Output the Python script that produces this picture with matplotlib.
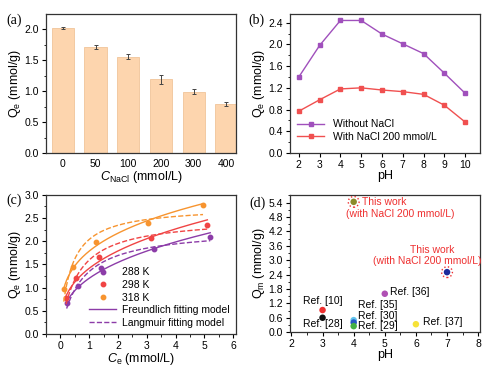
import numpy as np
import matplotlib
matplotlib.use('Agg')
import matplotlib.pyplot as plt
from matplotlib.ticker import FormatStrFormatter

plt.rcParams['font.family'] = ['Liberation Sans', 'DejaVu Sans']
plt.rcParams['font.size'] = 7.5
plt.rcParams['axes.labelsize'] = 9
plt.rcParams['mathtext.fontset'] = 'custom'
plt.rcParams['mathtext.it'] = 'Liberation Sans:italic'
plt.rcParams['mathtext.rm'] = 'Liberation Sans'

# (a) NaCl concentration
nacl_labels = ['0', '50', '100', '200', '300', '400']
qe_nacl = [2.02, 1.72, 1.56, 1.19, 0.99, 0.79]
qe_nacl_err = [0.02, 0.03, 0.04, 0.08, 0.04, 0.03]

# (b) pH effect
ph = [2, 3, 4, 5, 6, 7, 8, 9, 10]
qe_without = [1.40, 1.98, 2.44, 2.44, 2.19, 2.01, 1.83, 1.47, 1.10]
qe_with = [0.77, 0.98, 1.18, 1.20, 1.16, 1.13, 1.08, 0.88, 0.57]

# (c) isotherms
temps = ['288 K', '298 K', '318 K']
ce_288 = [0.22, 0.60, 1.40, 3.25, 5.20]
qe_288 = [0.66, 1.04, 1.43, 1.83, 2.10]
ce_298 = [0.20, 0.55, 1.35, 3.15, 5.10]
qe_298 = [0.78, 1.20, 1.66, 2.08, 2.36]
ce_318 = [0.12, 0.45, 1.25, 3.05, 4.95]
qe_318 = [0.96, 1.44, 1.98, 2.40, 2.78]

# (d) comparison
cmp_ph = [4, 7, 5, 3, 3, 4, 4, 4, 6]
cmp_qm = [5.43, 2.50, 1.60, 0.92, 0.60, 0.50, 0.40, 0.25, 0.33]
cmp_col = ['#8c8c2c', '#1c2c9c', '#b050b4', '#ee3030', '#111111',
           '#60c4ec', '#2858c4', '#44b044', '#f6e238']

col_bar = '#fdd5ae'
cols_T = ['#8c3ca8', '#f04444', '#f7942f']

fig = plt.figure(figsize=(4.88, 3.67), dpi=100)

def style(ax):
    for s in ax.spines.values():
        s.set_linewidth(0.9)
        s.set_color('#333333')
    ax.tick_params(direction='out', length=3, width=0.8, pad=2)
    ax.tick_params(which='minor', direction='out', length=1.8, width=0.6)

# (a)
ax1 = fig.add_axes([0.094, 0.583, 0.390, 0.379])
x = np.arange(len(nacl_labels))
ax1.bar(x, qe_nacl, width=0.68, color=col_bar, edgecolor='#f0c49a', linewidth=0.6,
        yerr=qe_nacl_err, error_kw=dict(ecolor='#444444', elinewidth=0.7, capsize=1.5, capthick=0.7))
ax1.set_xticks(x)
ax1.set_xticklabels(nacl_labels)
ax1.set_xlim(-0.52, 5.3)
ax1.set_ylim(0, 2.25)
ax1.set_yticks([0, 0.5, 1.0, 1.5, 2.0])
ax1.set_yticks(np.arange(0.25, 2.25, 0.5), minor=True)
ax1.yaxis.set_major_formatter(FormatStrFormatter('%.1f'))
ax1.set_ylabel('$\\mathrm{Q_e}$ (mmol/g)', labelpad=1)
ax1.set_xlabel('$C_{\\mathrm{NaCl}}$ (mmol/L)', labelpad=0)
style(ax1)
ax1.tick_params(axis='x', which='both', length=0, pad=4)

# (b)
ax2 = fig.add_axes([0.594, 0.583, 0.389, 0.379])
ax2.plot(ph, qe_without, '-s', color='#a050bc', lw=1.0, ms=2.2, label='Without NaCl')
ax2.plot(ph, qe_with, '-s', color='#f05050', lw=1.0, ms=2.2, label='With NaCl 200 mmol/L')
ax2.set_xlim(1.57, 10.7)
ax2.set_ylim(0, 2.56)
ax2.set_xticks(ph)
ax2.set_yticks(np.arange(0, 2.5, 0.4))
ax2.set_yticks(np.arange(0.2, 2.5, 0.4), minor=True)
ax2.yaxis.set_major_formatter(FormatStrFormatter('%.1f'))
ax2.set_xlabel('pH', labelpad=0)
ax2.set_ylabel('$\\mathrm{Q_e}$ (mmol/g)', labelpad=1)
ax2.legend(loc='lower left', frameon=False, fontsize=7.5, handlelength=2.6,
           borderaxespad=0.3, labelspacing=0.2, bbox_to_anchor=(0.0, 0.03))
style(ax2)

# (c)
ax3 = fig.add_axes([0.094, 0.090, 0.390, 0.379])
series = [(ce_288, qe_288), (ce_298, qe_298), (ce_318, qe_318)]
qm_grid = np.linspace(1.5, 4.5, 301)
k_grid = np.linspace(0.1, 10, 496)
for (ce, qe), c, lab in zip(series, cols_T, temps):
    ce = np.array(ce)
    qe = np.array(qe)
    xx = np.linspace(ce.min(), ce.max(), 200)
    # Freundlich fit (log-linear)
    p = np.polyfit(np.log(ce), np.log(qe), 1)
    ax3.plot(xx, np.exp(p[1]) * xx ** p[0], '-', color=c, lw=1.0)
    # Langmuir fit (least squares over grid)
    QM, KL = np.meshgrid(qm_grid, k_grid)
    err = sum((QM * KL * ci / (1 + KL * ci) - qi) ** 2 for ci, qi in zip(ce, qe))
    i = np.unravel_index(np.argmin(err), err.shape)
    ax3.plot(xx, QM[i] * KL[i] * xx / (1 + KL[i] * xx), '--', color=c, lw=1.0)
    ax3.plot(ce, qe, 'o', color=c, ms=3.2, label=lab)
ax3.plot([], [], '-', color=cols_T[0], lw=1.0, label='Freundlich fitting model')
ax3.plot([], [], '--', color=cols_T[0], lw=1.0, label='Langmuir fitting model')
ax3.set_xlim(-0.5, 6.1)
ax3.set_ylim(0, 3.0)
ax3.set_xticks(range(0, 7))
ax3.set_xticks(np.arange(-0.5, 6.1, 1.0), minor=True)
ax3.set_yticks(np.arange(0, 3.01, 0.5))
ax3.set_yticks(np.arange(0.25, 3.0, 0.5), minor=True)
ax3.yaxis.set_major_formatter(FormatStrFormatter('%.1f'))
ax3.set_xlabel('$C_\\mathrm{e}$ (mmol/L)', labelpad=0)
ax3.set_ylabel('$\\mathrm{Q_e}$ (mmol/g)', labelpad=1)
ax3.legend(loc='lower right', frameon=False, fontsize=7.5, handlelength=2.6,
           borderaxespad=0.2, labelspacing=0.25, handletextpad=0.6)
style(ax3)

# (d)
ax4 = fig.add_axes([0.594, 0.095, 0.389, 0.374])
ax4.scatter(cmp_ph, cmp_qm, s=22, c=cmp_col, zorder=3, edgecolors='none')
ax4.scatter(cmp_ph[:2], cmp_qm[:2], s=60, facecolors='none', edgecolors='#ee3030',
            linestyles=':', linewidths=1.0, zorder=3)
red = '#ee3030'
ax4.text(4.27, 5.43, 'This work', color=red, va='center', fontsize=7.5)
ax4.text(3.74, 4.92, '(with NaCl 200 mmol/L)', color=red, va='center', fontsize=7.5)
ax4.text(5.8, 3.43, 'This work', color=red, va='center', fontsize=7.5)
ax4.text(4.63, 2.95, '(with NaCl 200 mmol/L)', color=red, va='center', fontsize=7.5)
ax4.text(5.18, 1.66, 'Ref. [36]', va='center', fontsize=7.5)
ax4.text(2.37, 1.29, 'Ref. [10]', va='center', fontsize=7.5)
ax4.text(2.37, 0.35, 'Ref. [28]', va='center', fontsize=7.5)
ax4.text(4.14, 1.15, 'Ref. [35]', va='center', fontsize=7.5)
ax4.text(4.14, 0.68, 'Ref. [30]', va='center', fontsize=7.5)
ax4.text(4.14, 0.24, 'Ref. [29]', va='center', fontsize=7.5)
ax4.text(6.22, 0.42, 'Ref. [37]', va='center', fontsize=7.5)
ax4.set_xlim(1.95, 8.05)
ax4.set_ylim(0, 5.72)
ax4.set_xticks(range(2, 9))
ax4.set_xticks(np.arange(2.5, 8, 1.0), minor=True)
ax4.set_yticks(np.arange(0, 5.5, 0.6))
ax4.set_yticks(np.arange(0.3, 5.7, 0.6), minor=True)
ax4.yaxis.set_major_formatter(FormatStrFormatter('%.1f'))
ax4.set_xlabel('pH', labelpad=0)
ax4.set_ylabel('$\\mathrm{Q_m}$ (mmol/g)', labelpad=1)
style(ax4)

# panel labels
for lab, px, py in [('(a)', 6, 20), ('(b)', 248, 20), ('(c)', 6, 200), ('(d)', 249, 203)]:
    fig.text(px / 488, 1 - py / 367, lab, family='Liberation Serif', fontsize=10,
             va='center', ha='left')

fig.savefig('out.png', dpi=100)
